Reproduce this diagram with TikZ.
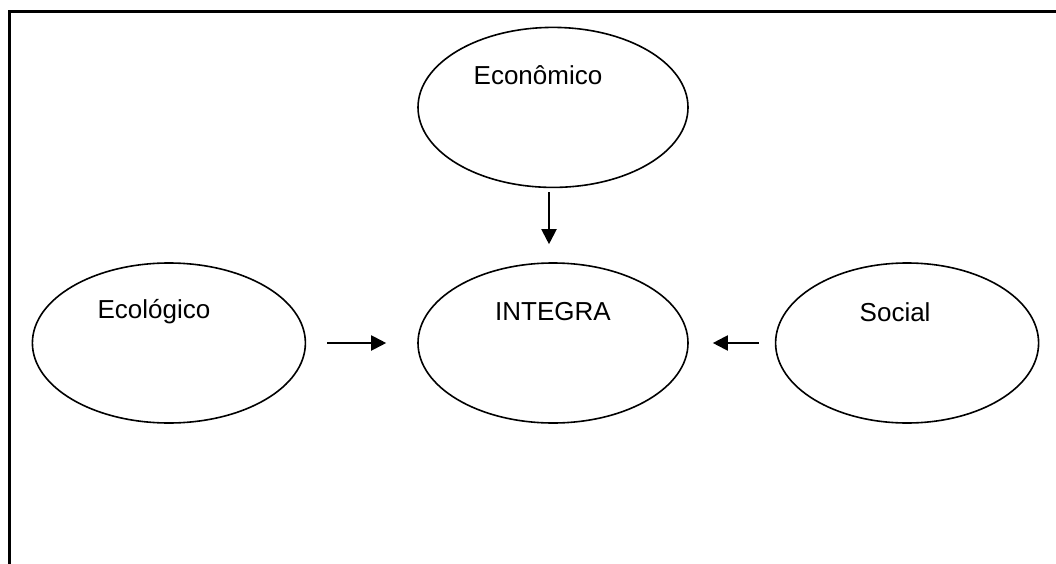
\documentclass[tikz,border=0pt]{standalone}
\usepackage{fontspec}
\setmainfont{Liberation Sans}
\usepackage{tikz}
\usetikzlibrary{shapes.geometric, arrows.meta, positioning, calc}

\begin{document}
\begin{tikzpicture}[
    x=1pt, y=-1pt,
    oval/.style={ellipse, draw, line width=1.6pt, inner sep=0pt, minimum width=270pt, minimum height=160pt},
    txt/.style={font=\fontsize{26}{30}\selectfont, inner sep=0pt},
    arrow/.style={-{Triangle[length=15pt, width=15pt]}, line width=2pt}
]
    \useasboundingbox (0,0) rectangle (1056,564);
    % open frame
    \draw[line width=3pt] (9.5,570) -- (9.5,12) -- (1060,12);

    \node[oval] (integra) at (553,343) {};
    \node[oval, above=74pt of integra] (econ) {};
    \node[oval, minimum width=273pt, left=111pt of integra] (ecol) {};
    \node[oval, minimum width=263pt, right=86pt of integra] (soc) {};

    \node[txt] (t-econ) at ([xshift=-15pt, yshift=32pt]econ.center) {Econômico};
    \node[txt] (t-integra) at ([yshift=31pt]integra.center) {INTEGRA};
    \node[txt] (t-ecol) at ([xshift=-15pt, yshift=31pt]ecol.center) {Ecológico};
    \node[txt] (t-soc) at ([xshift=-12pt, yshift=31pt]soc.center) {Social};

    \draw[arrow, shorten <=4pt, shorten >=18pt] ([xshift=-4pt]econ.south) -- ([xshift=-4pt]integra.north);
    \draw[arrow, shorten <=21pt, shorten >=31pt] (ecol) -- (integra);
    \draw[arrow, shorten <=16pt, shorten >=24pt] (soc) -- (integra);
\end{tikzpicture}
\end{document}
